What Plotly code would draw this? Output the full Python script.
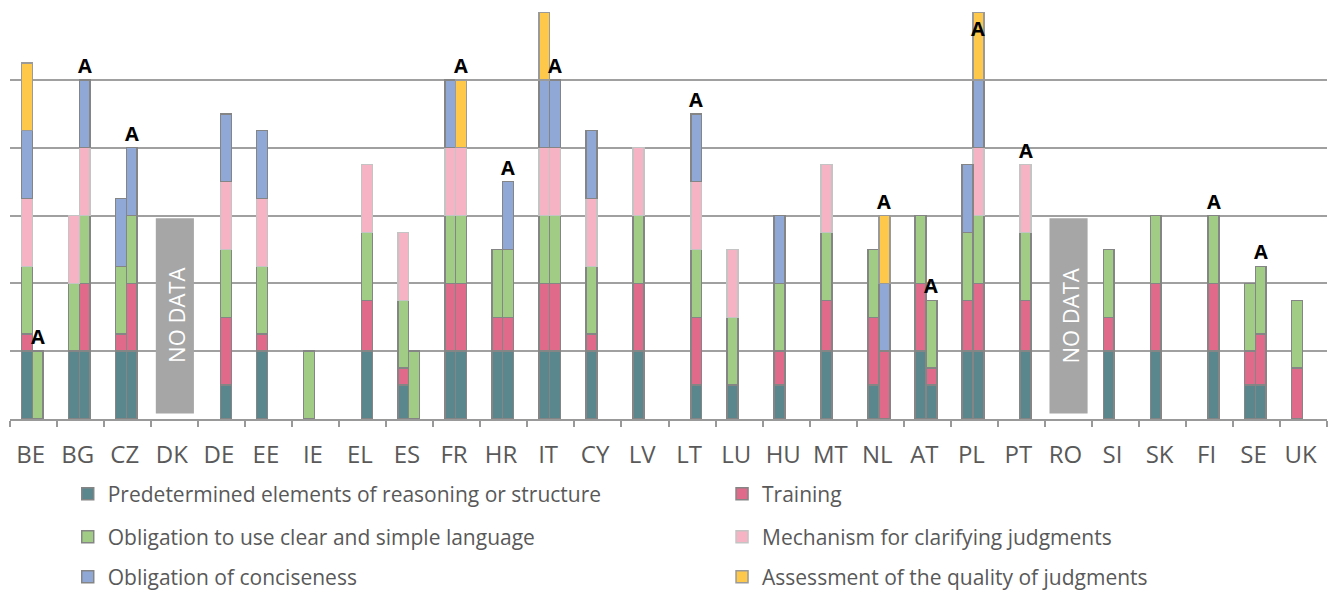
import plotly.graph_objects as go

countries = ["BE", "BG", "CZ", "DK", "DE", "EE", "IE", "EL", "ES", "FR", "HR", "IT", "CY", "LV",
             "LT", "LU", "HU", "MT", "NL", "AT", "PL", "PT", "RO", "SI", "SK", "FI", "SE", "UK"]

series_names = [
    "Predetermined elements of reasoning or structure",
    "Training",
    "Obligation to use clear and simple language",
    "Mechanism for clarifying judgments",
    "Obligation of conciseness",
    "Assessment of the quality of judgments",
]

# Left bar in each country slot
predetermined_left = [1, 1, 1, 0, 0, 1, 0, 0, 0.5, 1, 1, 1, 1, 1, 0, 0.5, 0.5, 1, 0.5, 1, 1, 0, 0, 1, 1, 0, 0.5, 0]
training_left = [0.25, 0, 0.25, 0, 0, 0.25, 0, 0, 0.25, 1, 0.5, 1, 0.25, 1, 0, 0, 0.5, 0.75, 1, 1, 0.75, 0, 0, 0.5, 1, 0, 0.5, 0.75]
clear_left = [1, 1, 1, 0, 0, 1, 1, 0, 1, 1, 1, 1, 1, 1, 0, 1, 1, 1, 1, 1, 1, 0, 0, 1, 1, 0, 1, 1]
clarifying_left = [1, 1, 0, 0, 0, 1, 0, 0, 1, 1, 0, 1, 1, 1, 0, 1, 0, 1, 0, 0, 0, 0, 0, 0, 0, 0, 0, 0]
concise_left = [1, 0, 1, 0, 0, 1, 0, 0, 0, 1, 0, 1, 1, 0, 0, 0, 1, 0, 0, 0, 1, 0, 0, 0, 0, 0, 0, 0]
quality_left = [1, 0, 0, 0, 0, 0, 0, 0, 0, 0, 0, 1, 0, 0, 0, 0, 0, 0, 0, 0, 0, 0, 0, 0, 0, 0, 0, 0]

# Right bar in each country slot (administrative courts where marked "A")
predetermined_right = [0, 1, 1, 0, 0.5, 0, 0, 1, 0, 1, 1, 1, 0, 0, 0.5, 0, 0, 0, 0, 0.5, 1, 1, 0, 0, 0, 1, 0.5, 0]
training_right = [0, 1, 1, 0, 1, 0, 0, 0.75, 0, 1, 0.5, 1, 0, 0, 1, 0, 0, 0, 1, 0.25, 1, 0.75, 0, 0, 0, 1, 0.75, 0]
clear_right = [1, 1, 1, 0, 1, 0, 0, 1, 1, 1, 1, 1, 0, 0, 1, 0, 0, 0, 0, 1, 1, 1, 0, 0, 0, 1, 1, 0]
clarifying_right = [0, 1, 0, 0, 1, 0, 0, 1, 0, 1, 0, 1, 0, 0, 1, 0, 0, 0, 0, 0, 1, 1, 0, 0, 0, 0, 0, 0]
concise_right = [0, 1, 1, 0, 1, 0, 0, 0, 0, 0, 1, 1, 0, 0, 1, 0, 0, 0, 1, 0, 1, 0, 0, 0, 0, 0, 0, 0]
quality_right = [0, 0, 0, 0, 0, 0, 0, 0, 0, 1, 0, 0, 0, 0, 0, 0, 0, 0, 1, 0, 1, 0, 0, 0, 0, 0, 0, 0]

admin_marked = ["BE", "BG", "CZ", "FR", "HR", "IT", "LT", "NL", "AT", "PL", "PT", "FI", "SE"]
no_data = ["DK", "RO"]

left_series = [predetermined_left, training_left, clear_left, clarifying_left, concise_left, quality_left]
right_series = [predetermined_right, training_right, clear_right, clarifying_right, concise_right, quality_right]

colors = ["#5A878E", "#E06A8A", "#A0CC86", "#F5B3C3", "#8FA8D6", "#FEC84B"]
edge_colors = ["#858585", "#858585", "#858585", "#C4C4C4", "#858585", "#9A9A9A"]

LEFT_OFF = -0.14
RIGHT_OFF = 0.09
BAR_W = 0.23
Y_MAX = 6

idx = list(range(len(countries)))


def clean(vals):
    return [v if v else None for v in vals]


legend_keys = ["legend"] + [f"legend{i}" for i in range(2, len(series_names) + 1)]

fig = go.Figure()
for s, name in enumerate(series_names):
    for side, (vals, off) in enumerate([(left_series[s], LEFT_OFF), (right_series[s], RIGHT_OFF)]):
        fig.add_trace(go.Bar(
            x=[k + off for k in idx],
            y=clean(vals),
            width=BAR_W,
            name=name,
            legendgroup=name,
            legend=legend_keys[s],
            showlegend=(side == 0),
            marker=dict(color=colors[s], line=dict(color=edge_colors[s], width=1.5)),
            hoverinfo="skip",
        ))

annotations = []
for c in admin_marked:
    k = countries.index(c)
    total = sum(series[k] for series in right_series)
    inside = total >= Y_MAX
    annotations.append(dict(
        x=k + RIGHT_OFF, y=total, xref="x", yref="y", text="A", showarrow=False,
        yanchor="top" if inside else "bottom", yshift=-1,
        font=dict(family="Open Sans", size=20, color="#000000", weight="bold"),
    ))

shapes = []
for c in no_data:
    k = countries.index(c)
    shapes.append(dict(type="rect", xref="x", yref="y", x0=k - 0.4, x1=k + 0.41, y0=0.08, y1=2.96,
                       fillcolor="#A6A6A6", line=dict(width=0), layer="above"))
    annotations.append(dict(x=k + 0.03, y=1.52, xref="x", yref="y", text="NO DATA", showarrow=False,
                            textangle=-90, font=dict(family="Open Sans", size=22, color="#FFFFFF")))

# Two-column legend: one legend box per entry
col_x = [0.051, 0.5437]
row_y = [1 - 494 / 594, 1 - 537 / 594, 1 - 577 / 594]
legend_layout = {}
for s, key in enumerate(legend_keys):
    legend_layout[key] = dict(
        orientation="h", xref="container", yref="container",
        x=col_x[s % 2], y=row_y[s // 2], xanchor="left", yanchor="middle",
        bgcolor="rgba(0,0,0,0)", itemclick=False, itemdoubleclick=False,
        font=dict(family="Open Sans", size=21, color="#595959"),
    )

fig.update_layout(
    width=1328, height=594,
    margin=dict(l=10, r=1, t=12, b=175),
    barmode="stack",
    plot_bgcolor="#FFFFFF", paper_bgcolor="#FFFFFF",
    xaxis=dict(
        range=[-0.5, len(countries) - 0.5],
        tickmode="array", tickvals=[k - 0.06 for k in idx], ticktext=countries,
        ticks="", showgrid=False, zeroline=False,
        showline=True, linecolor="#999999", linewidth=1.5,
        tickfont=dict(family="Open Sans", size=24, color="#595959"),
        ticklabelstandoff=13,
        minor=dict(tickmode="array", tickvals=[k - 0.5 for k in range(len(countries) + 1)],
                   ticks="outside", ticklen=6, tickcolor="#999999", tickwidth=1.5, showgrid=False),
    ),
    yaxis=dict(
        range=[0, Y_MAX], dtick=1, showticklabels=False, showgrid=True,
        gridcolor="#A0A0A0", gridwidth=1.5, zeroline=False, showline=False,
    ),
    annotations=annotations,
    shapes=shapes,
    showlegend=True,
    **legend_layout,
)

fig.write_html("out.html")
